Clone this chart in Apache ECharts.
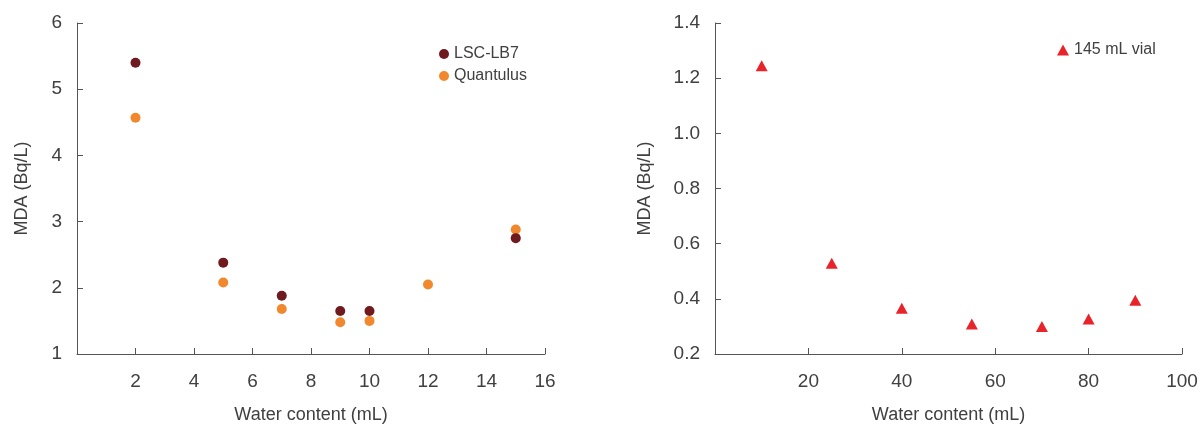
<!DOCTYPE html>
<html>
<head>
<meta charset="utf-8">
<script src="https://cdn.jsdelivr.net/npm/echarts@6/dist/echarts.min.js"></script>
<style>
  html, body { margin: 0; padding: 0; background: #fff; }
  #chart { width: 1203px; height: 429px; }
</style>
</head>
<body>
<div id="chart"></div>
<script>
// left panel: water content (mL) vs MDA
var lscX = [2, 5, 7, 9, 10, 15]
var lscY = [5.4, 2.38, 1.88, 1.65, 1.65, 2.75]
var quantX = [2, 5, 7, 9, 10, 12, 15]
var quantY = [4.57, 2.08, 1.68, 1.48, 1.50, 2.05, 2.88]
// right panel: 145 mL vial
var vialX = [10, 25, 40, 55, 70, 80, 90]
var vialY = [1.245, 0.529, 0.366, 0.309, 0.300, 0.327, 0.395]

function pairs(xs, ys) {
    return xs.map(function (x, i) { return [x, ys[i]] })
}

var textColor = '#404040'
var lineColor = '#555'
var font = 'Liberation Sans'

function xAxisOpt(idx, max, interval) {
    return {
        gridIndex: idx,
        type: 'value',
        min: 0,
        max: max,
        interval: interval,
        name: 'Water content (mL)',
        nameLocation: 'middle',
        nameGap: 52,
        nameTextStyle: { fontSize: 18, color: textColor, fontFamily: font },
        axisLine: { show: true, lineStyle: { color: lineColor } },
        axisTick: { show: true, inside: true, length: 6, lineStyle: { color: lineColor } },
        axisLabel: {
            fontSize: 19, color: textColor, fontFamily: font, margin: 18,
            formatter: function (v) { return v === 0 ? '' : v }
        },
        splitLine: { show: false }
    }
}

function yAxisOpt(idx, min, max, interval, digits) {
    return {
        gridIndex: idx,
        type: 'value',
        min: min,
        max: max,
        interval: interval,
        name: 'MDA (Bq/L)',
        nameLocation: 'middle',
        nameGap: idx == 0 ? 46 : 61,
        nameTextStyle: { fontSize: 18, color: textColor, fontFamily: font },
        axisLine: { show: true, lineStyle: { color: lineColor } },
        axisTick: { show: true, inside: true, length: 6, lineStyle: { color: lineColor } },
        axisLabel: {
            fontSize: 19, color: textColor, fontFamily: font, margin: 15,
            formatter: function (v) { return v.toFixed(digits) }
        },
        splitLine: { show: false }
    }
}

var option = {
    animation: false,
    legend: [
        {
            left: 434, top: 41, orient: 'vertical',
            itemWidth: 10, itemHeight: 10, itemGap: 6,
            textStyle: { fontSize: 16, color: textColor, fontFamily: font },
            data: ['LSC-LB7', 'Quantulus']
        },
        {
            left: 1052, top: 37, orient: 'vertical',
            itemWidth: 12, itemHeight: 11,
            textStyle: { fontSize: 16, color: textColor, fontFamily: font },
            data: ['145 mL vial']
        }
    ],
    grid: [
        { left: 77, right: 658, top: 23, bottom: 75 },
        { left: 715, right: 21, top: 23, bottom: 75 }
    ],
    xAxis: [xAxisOpt(0, 16, 2), xAxisOpt(1, 100, 20)],
    yAxis: [yAxisOpt(0, 1, 6, 1, 0), yAxisOpt(1, 0.2, 1.4, 0.2, 1)],
    series: [
        {
            name: 'Quantulus', type: 'scatter', xAxisIndex: 0, yAxisIndex: 0,
            symbol: 'circle', symbolSize: 10,
            itemStyle: { color: '#f2882e', opacity: 1 },
            data: pairs(quantX, quantY)
        },
        {
            name: 'LSC-LB7', type: 'scatter', xAxisIndex: 0, yAxisIndex: 0,
            symbol: 'circle', symbolSize: 10,
            itemStyle: { color: '#6e1a1f', opacity: 1 },
            data: pairs(lscX, lscY)
        },
        {
            name: '145 mL vial', type: 'scatter', xAxisIndex: 1, yAxisIndex: 1,
            symbol: 'triangle', symbolSize: [12, 11],
            itemStyle: { color: '#e8232a', opacity: 1 },
            data: pairs(vialX, vialY)
        }
    ]
}

echarts.init(document.getElementById('chart')).setOption(option)
</script>
</body>
</html>
